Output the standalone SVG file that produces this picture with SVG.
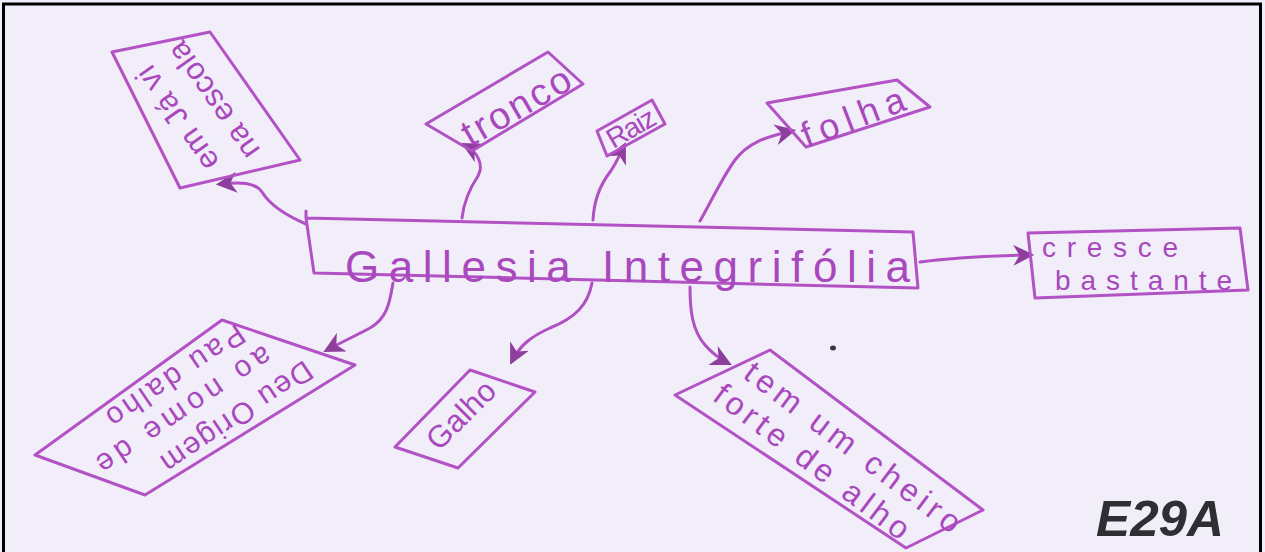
<svg xmlns="http://www.w3.org/2000/svg" width="1265" height="552" viewBox="0 0 1265 552">
  <defs>
    <style>
      .box { fill: none; stroke: #b252c4; stroke-width: 3; stroke-linejoin: round; stroke-linecap: round; }
      .link { fill: none; stroke: #b050c2; stroke-width: 3; stroke-linecap: round; }
      .lbl { font-family: "Liberation Sans", "DejaVu Sans", sans-serif; fill: #a848bc; text-anchor: middle; dominant-baseline: central; }
      .flat { font-family: "Liberation Sans", "DejaVu Sans", sans-serif; fill: #a848bc; }
      .tag { font-family: "Liberation Sans", "DejaVu Sans", sans-serif; fill: #2e2e33; font-weight: bold; font-style: italic; }
    </style>
    <marker id="arrow" viewBox="0 0 10 10" refX="8" refY="5" markerWidth="7" markerHeight="7" markerUnits="strokeWidth" orient="auto">
      <path d="M0,0 L10,5 L0,10 L3,5 Z" fill="#8e3f9e"/>
    </marker>
  </defs>

  <!-- paper and frame -->
  <rect x="0" y="0" width="1265" height="552" fill="#f1eefa"/>
  <path d="M3.5,552 V4 H1260.5 V552" fill="none" stroke="#000" stroke-width="3"/>

  <!-- connectors -->
  <g id="connectors">
    <path class="link" marker-end="url(#arrow)" d="M306,224 C285,215 270,205 262,192 C255,182 240,182 220,184"/>
    <path class="link" marker-end="url(#arrow)" d="M462,218 C464,200 470,188 478,176 C484,165 478,152 465,145"/>
    <path class="link" marker-end="url(#arrow)" d="M593,220 C594,200 600,185 610,172 C616,164 620,154 624,146"/>
    <path class="link" marker-end="url(#arrow)" d="M700,221 C712,200 722,178 735,160 C748,143 765,137 792,131"/>
    <path class="link" marker-end="url(#arrow)" d="M920,262 C950,258 985,256 1030,255"/>
    <path class="link" marker-end="url(#arrow)" d="M393,283 C390,300 388,318 370,328 C355,336 342,342 327,350"/>
    <path class="link" marker-end="url(#arrow)" d="M592,283 C588,305 575,318 550,328 C532,336 520,345 512,361"/>
    <path class="link" marker-end="url(#arrow)" d="M690,287 C690,310 692,330 705,345 C712,353 718,358 728,363"/>
  </g>

  <!-- central concept -->
  <g id="node-center">
    <path class="box" d="M306,211 V218 L913,232 L918,288 L314,273 L306,218"/>
    <text class="flat" x="345" y="282" font-size="44" textLength="565" lengthAdjust="spacing">Gallesia  Integrifólia</text>
  </g>

  <!-- em Já vi na escola -->
  <g id="node-escola">
    <path class="box" d="M112,52 L210,32 L300,160 L180,188 Z"/>
    <g transform="translate(203,110) rotate(-125)">
      <text class="lbl" font-size="31" x="8" y="-26" textLength="120" lengthAdjust="spacing">em Já vi</text>
      <text class="lbl" font-size="31" x="2" y="14" textLength="136" lengthAdjust="spacing">na escola</text>
    </g>
  </g>

  <!-- tronco -->
  <g id="node-tronco">
    <path class="box" d="M426,124 L548,52 L583,84 L472,151 Z"/>
    <text class="lbl" font-size="38" transform="translate(516,106) rotate(-30)" textLength="120" lengthAdjust="spacing">tronco</text>
  </g>

  <!-- Raiz -->
  <g id="node-raiz">
    <path class="box" d="M597,131 L652,100 L665,124 L607,156 Z"/>
    <text class="lbl" font-size="28" transform="translate(631,128) rotate(-30)" textLength="52" lengthAdjust="spacing">Raiz</text>
  </g>

  <!-- folha -->
  <g id="node-folha">
    <path class="box" d="M767,103 L897,80 L930,107 L806,147 Z"/>
    <text class="lbl" font-size="36" transform="translate(853,117) rotate(-21)" textLength="108" lengthAdjust="spacing">folha</text>
  </g>

  <!-- cresce bastante -->
  <g id="node-cresce">
    <path class="box" d="M1028,233 L1240,228 L1248,290 L1035,298 Z"/>
    <text class="flat" font-size="28" x="1042" y="257" textLength="136" lengthAdjust="spacing">cresce</text>
    <text class="flat" font-size="28" x="1055" y="290" textLength="177" lengthAdjust="spacing">bastante</text>
  </g>

  <!-- Deu Origem ao nome de Pau dalho -->
  <g id="node-pau">
    <path class="box" d="M222,320 L355,365 L145,495 L35,455 Z"/>
    <g transform="translate(190,408) rotate(146)">
      <text class="lbl" font-size="30" x="-34" y="-34" textLength="176" lengthAdjust="spacing">Deu Origem</text>
      <text class="lbl" font-size="30" x="6" y="1" textLength="205" lengthAdjust="spacing">ao nome de</text>
      <text class="lbl" font-size="30" x="-6" y="34" textLength="160" lengthAdjust="spacing">Pau dalho</text>
    </g>
  </g>

  <!-- Galho -->
  <g id="node-galho">
    <path class="box" d="M470,370 L535,392 L458,468 L395,447 Z"/>
    <text class="lbl" font-size="31" transform="translate(461,415) rotate(-45)" textLength="84" lengthAdjust="spacing">Galho</text>
  </g>

  <!-- tem um cheiro forte de alho -->
  <g id="node-cheiro">
    <path class="box" d="M770,350 L983,510 L906,548 L675,395 Z"/>
    <g transform="translate(829,449) rotate(37)">
      <text class="lbl" font-size="32" x="18" y="-16" textLength="262" lengthAdjust="spacing">tem um cheiro</text>
      <text class="lbl" font-size="32" x="-6" y="20" textLength="236" lengthAdjust="spacing">forte de alho</text>
    </g>
  </g>

  <!-- ink speck -->
  <ellipse cx="833" cy="348" rx="3" ry="2.5" fill="#3a3340"/>

  <!-- sheet code -->
  <text class="tag" x="1096" y="536" font-size="50" textLength="128" lengthAdjust="spacingAndGlyphs">E29A</text>
</svg>
